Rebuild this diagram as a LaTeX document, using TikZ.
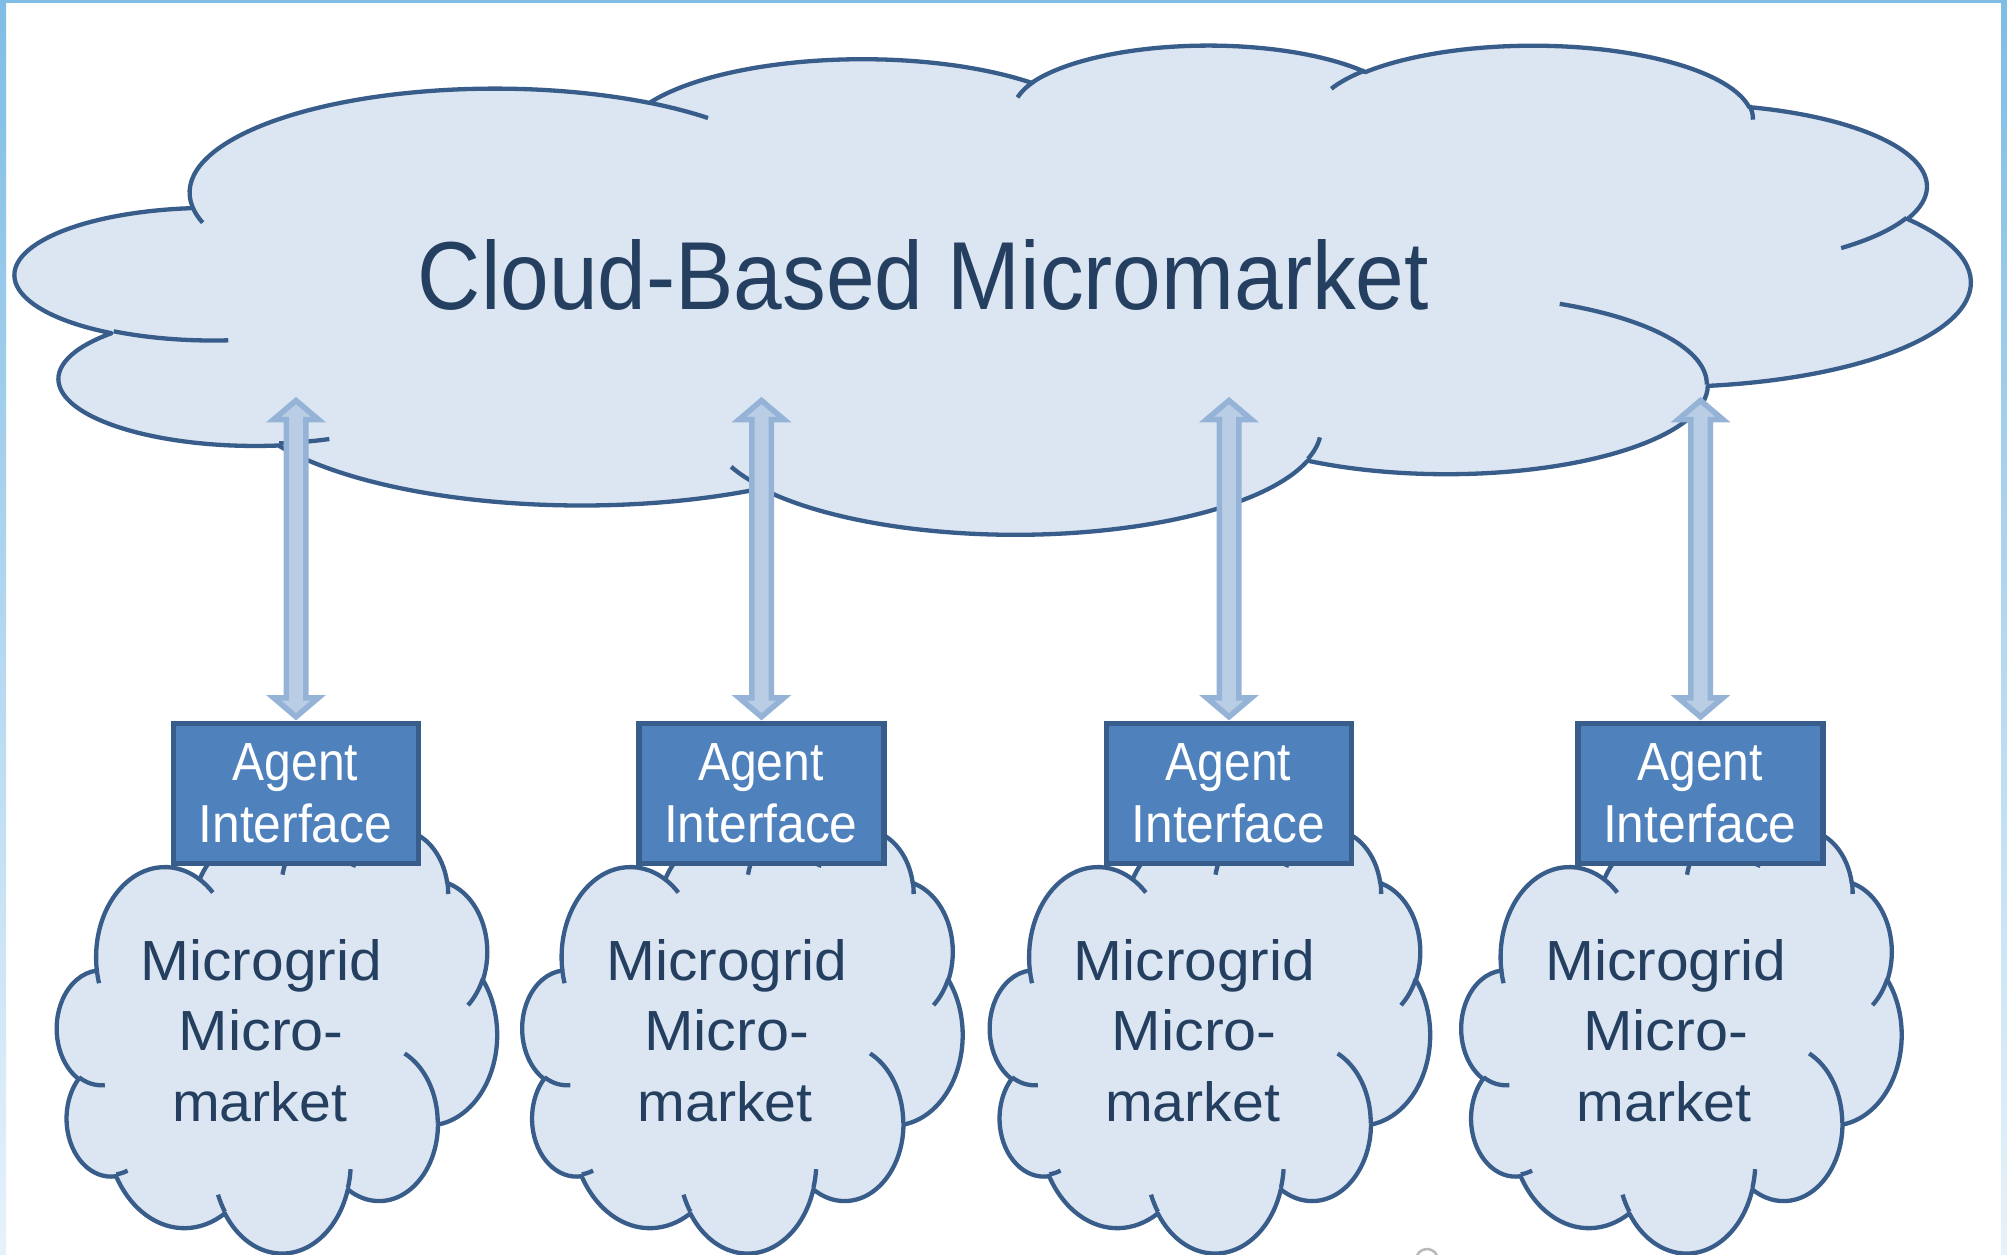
\documentclass[tikz,border=0pt]{standalone}
\usepackage{fontspec}
\setmainfont{Liberation Sans}
\usepackage{graphicx}
\usetikzlibrary{calc}
\definecolor{cloudfill}{HTML}{DCE6F2}
\definecolor{cloudline}{HTML}{385D8A}
\definecolor{boxfill}{HTML}{4F81BD}
\definecolor{arrowfill}{HTML}{B9CDE5}
\definecolor{arrowline}{HTML}{95B3D7}
\definecolor{navytext}{HTML}{243F60}
\definecolor{framec}{HTML}{7FBDE6}
\definecolor{framelight}{HTML}{E6F2FB}

% OOXML arcTo (visual angles) -> TikZ parametric arc
\newcommand\oocalc[4]{%
  \pgfmathsetmacro\ooA{atan2((#1)*sin(#3),(#2)*cos(#3))}%
  \pgfmathsetmacro\ooB{atan2((#1)*sin((#3)+(#4)),(#2)*cos((#3)+(#4)))}%
  \pgfmathsetmacro\ooD{(\ooB)-(\ooA)}%
  \pgfmathsetmacro\ooE{(\ooD)+((#4)>0)*((\ooD)<0)*360-((#4)<0)*((\ooD)>0)*360}%
}
\tikzset{
  ooxarc/.code n args={4}{\oocalc{#1}{#2}{#3}{#4}%
    \tikzset{x radius=#1,y radius=#2,start angle=\ooA,delta angle=\ooE}},
  cloudbody/.style={fill=cloudfill,draw=cloudline,line width=4.3pt,line join=round},
  cloudedge/.style={draw=cloudline,line width=4.3pt},
  agentbox/.style={draw=cloudline,fill=boxfill,line width=5.5pt,minimum width=245pt,minimum height=140pt,inner sep=0pt,outer sep=0pt},
  dblarrow/.style={fill=arrowfill,draw=arrowline,line width=5.5pt,line join=miter},
  navy/.style={anchor=base,inner sep=0pt,text=navytext,font=\fontsize{50pt}{60pt}\selectfont},
  whitetxt/.style={anchor=base,inner sep=0pt,text=white,font=\fontsize{50pt}{60pt}\selectfont}
}

\newcommand\drawcloud[4]{%
\begin{scope}[shift={(#1,-#2)},xscale=#3,yscale=-#4]
\path[cloudbody] (39.00,143.70)
 arc[ooxarc={67.53}{91.90}{-190.4875}{123.7805}]
 arc[ooxarc={53.33}{72.67}{-144.1024}{89.9452}]
 arc[ooxarc={43.65}{59.45}{-145.8079}{99.7230}]
 arc[ooxarc={48.57}{65.95}{-130.9861}{117.2417}]
 arc[ooxarc={53.33}{72.73}{-78.7089}{109.0269}]
 arc[ooxarc={67.75}{92.20}{-46.2673}{130.2690}]
 arc[ooxarc={57.85}{78.67}{0.6250}{114.0333}]
 arc[ooxarc={67.52}{92.15}{22.4516}{115.1726}]
 arc[ooxarc={77.20}{105.43}{66.2426}{75.7110}]
 arc[ooxarc={43.60}{59.18}{-274.9421}{146.7356}]
 arc[ooxarc={43.45}{59.45}{-246.8285}{152.5189}]
 -- cycle;
\path[cloudedge]
 (46.93,261.77) arc[ooxarc={43.45}{59.45}{86.7420}{26.4295}]
 (69.28,348.99) arc[ooxarc={43.60}{59.18}{73.6105}{11.4475}]
 (164.78,390.90) arc[ooxarc={67.52}{92.15}{137.6242}{14.0811}]
 (288.27,347.51) arc[ooxarc={67.52}{92.15}{6.4533}{15.9984}]
 (341.29,229.54) arc[ooxarc={57.85}{78.67}{-70.2924}{70.9174}]
 (417.98,153.54) arc[ooxarc={53.33}{72.73}{30.3180}{27.7515}]
 (383.24,54.26) arc[ooxarc={48.57}{65.95}{-13.7443}{14.8589}]
 (290.78,39.52) arc[ooxarc={48.57}{65.95}{-149.1815}{18.1954}]
 (221.41,47.20) arc[ooxarc={43.65}{59.45}{-163.4943}{17.6864}]
 (140.00,51.92) arc[ooxarc={67.53}{91.90}{-66.7070}{12.3194}]
 (41.27,157.89) arc[ooxarc={67.53}{91.90}{157.6544}{11.8582}];
\end{scope}}

\begin{document}
\begin{tikzpicture}[x=1pt,y=1pt]
\useasboundingbox (0,0) rectangle (2007,-1255);
\fill[white] (0,0) rectangle (2007,-1255);
% frame
\shade[top color=framec,bottom color=framelight] (0,0) rectangle (6,-1255);
\shade[top color=framec,bottom color=framelight] (2001,0) rectangle (2007,-1255);
\fill[framec] (0,0) rectangle (2007,-3.5);

% main cloud
\drawcloud{16}{44}{4.52315}{1.13194}
\node[navy] (title) at (923.5,-309) {\resizebox{1011pt}{70pt}{Cloud-Based Micromarket}};

% groups
\foreach \s [count=\i] in {0,465.5,933,1404.5}{
  \drawcloud{57+\s}{828.4}{1.018519}{0.980556}
  \coordinate (up\i) at (296+\s,-400.5);
  \draw[dblarrow] (up\i) -- ++(22.4,-19) -- ++(-12.65,0) -- ++(0,-278.25) -- ++(12.65,0)
     -- ++(-22.4,-19.05) -- ++(-22.4,19.05) -- ++(12.65,0) -- ++(0,278.25) -- ++(-12.65,0) -- cycle;
  \node[agentbox] (box\i) at (296+\s,-793.5) {};
  \node[whitetxt] (ag\i) at (295.5+\s,-780) {\resizebox{125.5pt}{37pt}{Agent}};
  \node[whitetxt] (if\i) at (295.3+\s,-842.7) {\resizebox{193.5pt}{38.7pt}{Interface}};
  \node[navy] (mg\i) at (261.4+\s,-980) {\resizebox{241.4pt}{41pt}{Microgrid}};
  \node[navy] (mc\i) at (261.2+\s,-1050.5) {\resizebox{165pt}{41pt}{Micro-}};
  \node[navy] (mk\i) at (259.7+\s,-1121) {\resizebox{175pt}{40pt}{market}};
}
\draw[gray!55,line width=2.5pt] (1416,-1260) arc[start angle=180,end angle=0,radius=11];
\end{tikzpicture}
\end{document}
